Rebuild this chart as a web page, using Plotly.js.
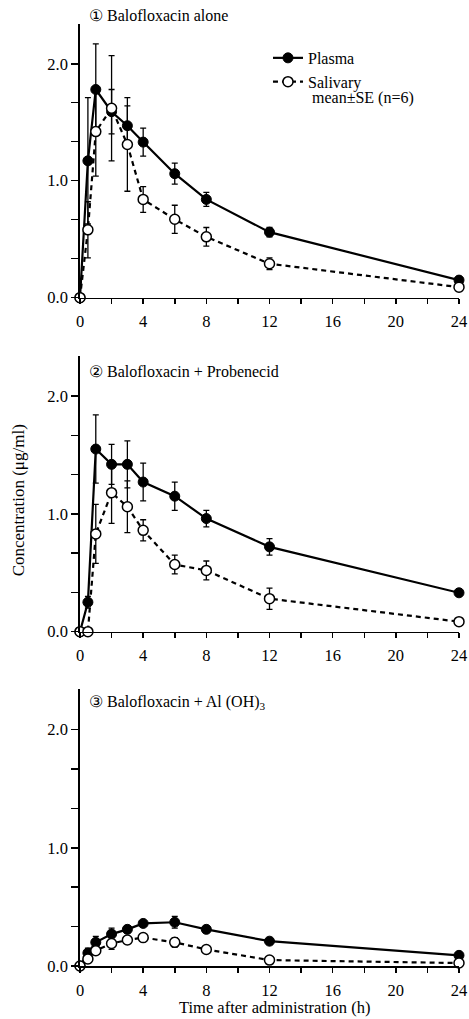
<!DOCTYPE html>
<html>
<head>
<meta charset="utf-8">
<script src="https://cdn.plot.ly/plotly-3.0.1.min.js"></script>
<style>html,body{margin:0;padding:0;background:#fff;}#chart{width:469px;height:1019px;}</style>
</head>
<body>
<div id="chart"></div>
<script>
// Sampling times (h)
var times = [0, 0.5, 1, 2, 3, 4, 6, 8, 12, 24];

// Panel 1: Balofloxacin alone
var plasma1      = [0, 1.17, 1.78, 1.59, 1.47, 1.33, 1.06, 0.84, 0.56, 0.15];
var plasma1Err   = [0, 0.54, 0.39, 0.19, 0.17, 0.12, 0.09, 0.06, 0.04, 0.02];
var salivary1    = [0, 0.58, 1.42, 1.62, 1.31, 0.84, 0.67, 0.52, 0.29, 0.09];
var salivary1Err = [0, 0.24, 0.38, 0.45, 0.40, 0.11, 0.12, 0.08, 0.05, 0.02];

// Panel 2: Balofloxacin + Probenecid
var plasma2      = [0, 0.25, 1.55, 1.42, 1.42, 1.27, 1.15, 0.96, 0.72, 0.33];
var plasma2Err   = [0, 0.05, 0.29, 0.17, 0.20, 0.16, 0.12, 0.07, 0.07, 0.02];
var salivary2    = [0, 0, 0.83, 1.18, 1.06, 0.86, 0.57, 0.52, 0.28, 0.085];
var salivary2Err = [0, 0, 0.25, 0.26, 0.22, 0.09, 0.08, 0.08, 0.09, 0.01];

// Panel 3: Balofloxacin + Al(OH)3
var plasma3      = [0, 0.11, 0.20, 0.27, 0.31, 0.36, 0.37, 0.31, 0.21, 0.09];
var plasma3Err   = [0, 0.04, 0.05, 0.05, 0.03, 0.02, 0.05, 0.02, 0.02, 0.02];
var salivary3    = [0, 0.06, 0.13, 0.19, 0.22, 0.24, 0.20, 0.14, 0.05, 0.025];
var salivary3Err = [0, 0.02, 0.03, 0.05, 0.03, 0.03, 0.04, 0.02, 0.02, 0.01];

var panelTitles = ["\u2460 Balofloxacin alone", "\u2461 Balofloxacin + Probenecid", "\u2462 Balofloxacin + Al (OH)<sub>3</sub>"];
var seriesNames = ["Plasma", "Salivary"];
var noteText = "mean\u00b1SE (n=6)";
var yTitle = "Concentration (\u03bcg/ml)";
var xTitle = "Time after administration (h)";
var yTickVals = [0, 1/3, 2/3, 1, 4/3, 5/3, 2];
var yTickText = ["0.0", "", "", "1.0", "", "", "2.0"];
var xTickVals = [0, 2, 4, 6, 8, 10, 12, 14, 16, 18, 20, 22, 24];
var xTickText = ["0", "", "4", "", "8", "", "12", "", "16", "", "20", "", "24"];

var FONT = "'Liberation Serif', 'Times New Roman', 'DejaVu Serif', serif";

var panels = [
  {p: plasma1, pe: plasma1Err, s: salivary1, se: salivary1Err},
  {p: plasma2, pe: plasma2Err, s: salivary2, se: salivary2Err},
  {p: plasma3, pe: plasma3Err, s: salivary3, se: salivary3Err}
];

var traces = [];
panels.forEach(function(pn, i) {
  var xa = i === 0 ? 'x' : 'x' + (i + 1);
  var ya = i === 0 ? 'y' : 'y' + (i + 1);
  traces.push({
    x: times, y: pn.p, xaxis: xa, yaxis: ya, type: 'scatter', mode: 'lines+markers',
    name: seriesNames[0], showlegend: i === 0, cliponaxis: false,
    line: {color: '#000', width: 2.2},
    marker: {color: '#000', size: 10, symbol: 'circle', line: {color: '#000', width: 1}},
    error_y: {type: 'data', array: pn.pe, visible: true, color: '#000', thickness: 1.3, width: 3}
  });
  traces.push({
    x: times, y: pn.s, xaxis: xa, yaxis: ya, type: 'scatter', mode: 'lines+markers',
    name: seriesNames[1], showlegend: i === 0, cliponaxis: false,
    line: {color: '#000', width: 2.2, dash: '5px,4px'},
    marker: {color: '#fff', size: 10, symbol: 'circle', line: {color: '#000', width: 1.5}},
    error_y: {type: 'data', array: pn.se, visible: true, color: '#000', thickness: 1.3, width: 3}
  });
});

var domains = [[0.7095, 1], [0.3549, 0.6476], [0, 0.2937]];
var TICKSIZE = 16.5;

function xAxis(anchor) {
  return {
    domain: [0, 1], anchor: anchor, range: [0, 24], showline: true, linecolor: '#000', linewidth: 1.8,
    ticks: 'outside', ticklen: 5, tickwidth: 1.5, tickcolor: '#000',
    tickvals: xTickVals, ticktext: xTickText, showgrid: false, zeroline: false,
    ticklabeloverflow: 'allow', ticklabelstandoff: 3,
    tickfont: {family: FONT, size: TICKSIZE, color: '#000'}, fixedrange: true
  };
}
function yAxis(anchor, dom) {
  return {
    domain: dom, anchor: anchor, range: [0, 2.34], showline: true, linecolor: '#000', linewidth: 1.8,
    ticks: 'outside', ticklen: 7, tickwidth: 1.5, tickcolor: '#000',
    tickvals: yTickVals, ticktext: yTickText, showgrid: false, zeroline: false,
    ticklabeloverflow: 'allow',
    tickfont: {family: FONT, size: TICKSIZE, color: '#000'}, fixedrange: true
  };
}

var annFont = {family: FONT, size: 16, color: '#000'};
var layout = {
  width: 469, height: 1019,
  margin: {l: 80, r: 10, t: 24, b: 53},
  paper_bgcolor: '#fff', plot_bgcolor: '#fff',
  font: {family: FONT, color: '#000'},
  showlegend: true,
  legend: {
    x: 0.496, y: 0.982, xanchor: 'left', yanchor: 'top', xref: 'paper', yref: 'paper',
    bgcolor: 'rgba(0,0,0,0)', borderwidth: 0, tracegroupgap: 0,
    font: {family: FONT, size: 16, color: '#000'}
  },
  xaxis: xAxis('y'), yaxis: yAxis('x', domains[0]),
  xaxis2: xAxis('y2'), yaxis2: yAxis('x2', domains[1]),
  xaxis3: xAxis('y3'), yaxis3: yAxis('x3', domains[2]),
  annotations: [
    {text: panelTitles[0], xref: 'paper', yref: 'paper', x: 0.018, y: 1.0085, xanchor: 'left', yanchor: 'middle', showarrow: false, font: annFont},
    {text: panelTitles[1], xref: 'paper', yref: 'paper', x: 0.018, y: 0.6309, xanchor: 'left', yanchor: 'middle', showarrow: false, font: annFont},
    {text: panelTitles[2], xref: 'paper', yref: 'paper', x: 0.018, y: 0.2792, xanchor: 'left', yanchor: 'middle', showarrow: false, font: annFont},
    {text: noteText, xref: 'paper', yref: 'paper', x: 0.607, y: 0.9215, xanchor: 'left', yanchor: 'middle', showarrow: false, font: {family: FONT, size: 16, color: '#000'}},
    {text: yTitle, xref: 'paper', yref: 'paper', x: -0.16, y: 0.4947, xanchor: 'center', yanchor: 'middle', textangle: -90, showarrow: false, font: {family: FONT, size: 17, color: '#000'}},
    {text: xTitle, xref: 'paper', yref: 'paper', x: 0.514, y: -0.0445, xanchor: 'center', yanchor: 'middle', showarrow: false, font: {family: FONT, size: 16.5, color: '#000'}}
  ]
};

Plotly.newPlot('chart', traces, layout, {staticPlot: true, displayModeBar: false});
</script>
</body>
</html>
